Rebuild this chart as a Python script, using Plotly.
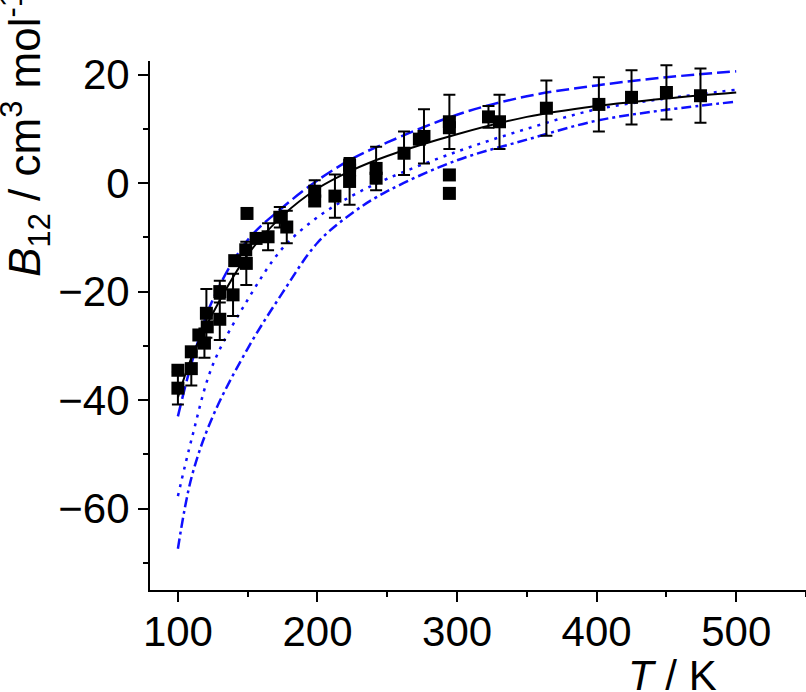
import plotly.graph_objects as go

# ---- measured points with error bars ----
T_err = [100, 109.6, 119, 120.4, 130, 130, 139.5, 149, 164.6, 173, 178, 198, 212.5, 223,
         242, 262, 276.3, 294.5, 322.5, 330.4, 364, 401.6, 425, 450, 474.4]
B_err = [-37.8, -34.2, -29.5, -24.0, -25.1, -20.0, -20.6, -14.8, -9.9, -6.3, -8.1, -1.5, -2.4, 0.3,
         2.7, 5.5, 8.6, 11.3, 12.2, 11.3, 13.8, 14.5, 15.8, 16.7, 16.1]
E_err = [3.0, 3.1, 2.7, 4.5, 3.8, 2.0, 3.9, 4.0, 2.5, 1.9, 3.0, 2.0, 4.0, 4.3,
         4.0, 4.0, 5.0, 5.0, 2.0, 5.0, 5.1, 5.0, 5.0, 5.0, 5.0]

# ---- measured points without error bars ----
T_pts = [100, 109.6, 115, 121, 140.7, 148.6, 149.5, 156, 198, 223, 223, 242, 273,
         294.5, 294.5, 294.5]
B_pts = [-34.5, -31.1, -28.0, -26.5, -14.3, -12.3, -5.6, -10.2, -3.3, 2.4, 3.3, 0.9, 8.1,
         10.2, 1.5, -1.9]

# ---- curves ----
T_curve = [100, 110, 125, 150, 175, 200, 225, 250, 300, 350, 400, 450, 500]
B_fit = [-39.5, -32.0, -24.0, -13.2, -6.0, -1.0, 2.4, 5.0, 9.0, 12.2, 14.2, 15.6, 16.7]
B_dash = [-43.0, -33.0, -21.5, -10.5, -4.5, 0.5, 4.5, 7.5, 12.6, 16.0, 18.0, 19.5, 20.6]
B_dot = [-57.7, -47.0, -33.5, -21.5, -12.0, -6.3, -2.3, 0.8, 5.8, 10.0, 13.6, 15.6, 17.2]
B_dashdot = [-67.4, -54.0, -43.0, -30.5, -20.2, -11.0, -5.5, -1.5, 4.2, 8.0, 11.5, 13.5, 15.0]

x_ticks = [100, 200, 300, 400, 500]
y_ticks = [-60, -40, -20, 0, 20]

BLUE = "#0f0fff"
FONT = "Liberation Sans, Arial, sans-serif"

fig = go.Figure()
fig.add_trace(go.Scatter(x=T_curve, y=B_dashdot, mode="lines", line_shape="spline",
                         line=dict(color=BLUE, width=2.5, dash="10px,4px,3px,4px")))
fig.add_trace(go.Scatter(x=T_curve, y=B_dot, mode="lines", line_shape="spline",
                         line=dict(color=BLUE, width=2.5, dash="3px,6px")))
fig.add_trace(go.Scatter(x=T_curve, y=B_dash, mode="lines", line_shape="spline",
                         line=dict(color=BLUE, width=2.5, dash="13px,5px")))
fig.add_trace(go.Scatter(x=T_curve, y=B_fit, mode="lines", line_shape="spline",
                         line=dict(color="black", width=2)))
fig.add_trace(go.Scatter(x=T_pts, y=B_pts, mode="markers",
                         marker=dict(symbol="square", size=13, color="black")))
fig.add_trace(go.Scatter(x=T_err, y=B_err, mode="markers",
                         marker=dict(symbol="square", size=13, color="black"),
                         error_y=dict(type="data", array=E_err, visible=True,
                                      color="black", thickness=2, width=6)))

axis_common = dict(showgrid=False, zeroline=False, showline=True, linecolor="black",
                   linewidth=2, ticks="outside", ticklen=10, tickwidth=2, tickcolor="black",
                   tickfont=dict(family=FONT, size=42, color="black"))

fig.update_xaxes(range=[80, 550], tickvals=x_ticks, ticktext=[str(v) for v in x_ticks],
                 ticklabelstandoff=-6,
                 minor=dict(ticks="outside", ticklen=5, tickwidth=2, tickcolor="black",
                            dtick=50, tick0=0), **axis_common)
fig.update_yaxes(range=[-75, 22.5], tickvals=y_ticks,
                 ticktext=[("\u2212" + str(-v)) if v < 0 else str(v) for v in y_ticks],
                 minor=dict(ticks="outside", ticklen=5, tickwidth=2, tickcolor="black",
                            dtick=10, tick0=0), **axis_common)

fig.update_layout(
    width=806, height=692,
    margin=dict(l=150, r=0, t=61, b=102),
    plot_bgcolor="white", paper_bgcolor="white",
    showlegend=False,
    annotations=[
        dict(text="<i>B</i><sub>12</sub> / cm<sup>3</sup> mol<sup>-1</sup>",
             xref="paper", yref="paper", x=-0.19, y=0.588,
             xanchor="center", yanchor="bottom", textangle=-90, showarrow=False,
             font=dict(family=FONT, size=44, color="black")),
        dict(text="<i>T</i> / K", xref="paper", yref="paper", x=0.796, y=-0.113,
             xanchor="center", yanchor="top", showarrow=False,
             font=dict(family=FONT, size=42, color="black")),
    ],
)

fig.write_html("out.html")
